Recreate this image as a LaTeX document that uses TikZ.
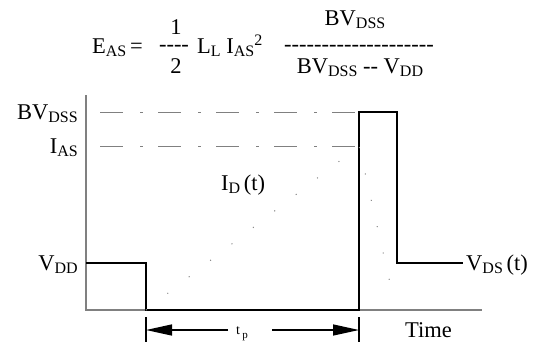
\documentclass[tikz,border=0pt]{standalone}
\usepackage{fontspec}
\setmainfont{Liberation Serif}[Ligatures=TeXOff]
\usetikzlibrary{arrows.meta}
\newcommand{\axisleft}{86}
\newcommand{\axisbottom}{310}
\newcommand{\axistop}{95}
\newcommand{\axisright}{482}
\newcommand{\pulsestart}{146}
\newcommand{\pulseend}{359}
\newcommand{\clampend}{397}
\newcommand{\tailend}{463}
\newcommand{\vddlevel}{263}
\newcommand{\bvlevel}{112}
\newcommand{\iaslevel}{146}
\newcommand{\dimlevel}{330}
\newcommand{\lowidx}[1]{\raisebox{-3pt}{\fontsize{16}{16}\selectfont #1}}
\newcommand{\highidx}[1]{\raisebox{8pt}{\fontsize{16}{16}\selectfont #1}}

\begin{document}
\begin{tikzpicture}[x=1pt,y=-1pt,font=\fontsize{22.5}{26}\selectfont]
\tikzstyle{axis}=[gray,line width=1.2pt]
\tikzstyle{wave}=[line width=1.8pt,line join=miter]
\tikzstyle{level}=[gray,line width=1pt,dash pattern=on 23pt off 17pt on 3pt off 15pt]
\tikzstyle{current}=[gray,line width=1pt,dash pattern=on 1pt off 26pt]
\tikzstyle{txt}=[inner sep=0pt]
\tikzstyle{lbl}=[inner sep=0pt,anchor=base east]
\tikzstyle{tick}=[line width=1.2pt]
\tikzstyle{dimarrow}=[line width=1.4pt,-{Triangle[length=26pt,width=11pt]}]

\useasboundingbox (0,0) rectangle (541,346);

% formula
\node (eas) [txt,anchor=base west] at (92,53) {E\lowidx{AS}\,=};
\node (one) [txt,anchor=base] at (176,34) {1};
\node (halfbar) [txt,anchor=base] at (174,51) {----};
\node (two) [txt,anchor=base] at (176,73) {2};
\node (llias) [txt,anchor=base west] at (197,53) {L\lowidx{L} I\lowidx{AS}\highidx{2}};
\node (fracbar) [txt,anchor=base] at (359,51) {--------------------};
\node (num) [txt,anchor=base] at (355,25) {BV\lowidx{DSS}};
\node (den) [txt,anchor=base] at (360,73) {BV\lowidx{DSS} -- V\lowidx{DD}};

% axes
\coordinate (ytop) at (\axisleft,\axistop);
\coordinate (origin) at (\axisleft,\axisbottom);
\coordinate (xend) at (\axisright,\axisbottom);
\draw[axis] (ytop) -- (origin) -- (xend);

\node (bvlbl) [lbl] at (78,119) {BV\lowidx{DSS}};
\node (iaslbl) [lbl] at (78,153) {I\lowidx{AS}};
\node (vddlbl) [lbl] at (78,270) {V\lowidx{DD}};

\draw[level] (100,\bvlevel) -- (\pulseend,\bvlevel);
\draw[level] (100,\iaslevel) -- (\pulseend,\iaslevel);

% drain voltage
\draw[wave] (\axisleft,\vddlevel) -- (\pulsestart,\vddlevel) -- (\pulsestart,\axisbottom)
  -- (\pulseend,\axisbottom) -- (\pulseend,\bvlevel) -- (\clampend,\bvlevel)
  -- (\clampend,\vddlevel) -- (\tailend,\vddlevel);
\node (vdslbl) [txt,anchor=base west] at (466,270) {V\lowidx{DS}\,(t)};

% drain current
\draw[current] (\pulsestart,\axisbottom) -- (\pulseend,\iaslevel) -- (395,305);
\node (idlbl) [txt,anchor=base west] at (221,190) {I\lowidx{D}\,(t)};

\node (timelbl) [txt,anchor=base west] at (405,337) {Time};

% pulse width
\draw[tick] (\pulsestart,317) -- (\pulsestart,342);
\draw[tick] (\pulseend,317) -- (\pulseend,342);
\node (tp) [txt,font=\fontsize{14}{14}\selectfont,anchor=base west] at (236,334) {t\,\raisebox{-4pt}{\fontsize{11}{11}\selectfont p}};
\coordinate (dimLin) at (228,\dimlevel);
\coordinate (dimRin) at (272,\dimlevel);
\coordinate (dimL) at (\pulsestart,\dimlevel);
\coordinate (dimR) at (\pulseend,\dimlevel);
\draw[dimarrow] (dimLin) -- (dimL);
\draw[dimarrow] (dimRin) -- (dimR);

\end{tikzpicture}
\end{document}
